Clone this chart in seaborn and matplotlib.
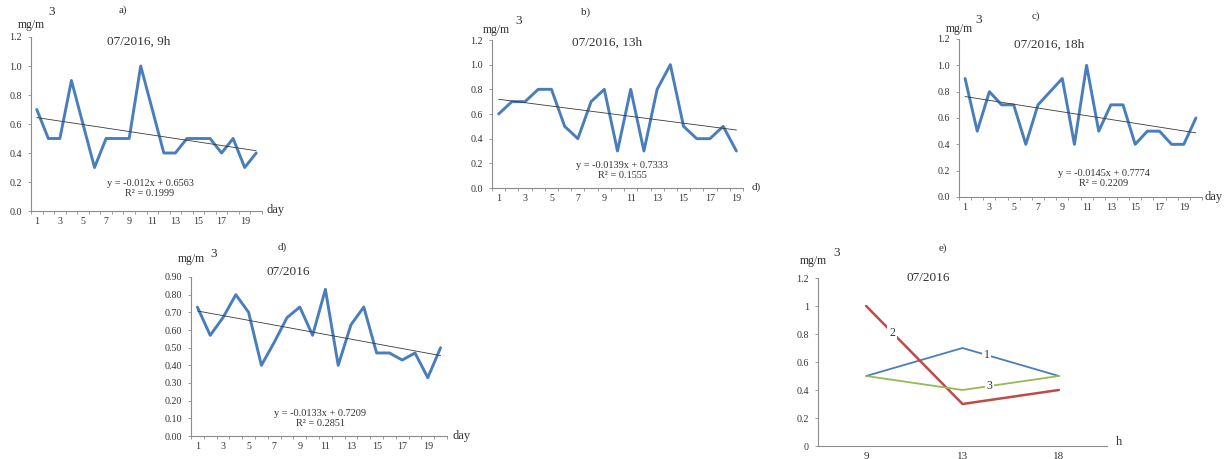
import numpy as np
import pandas as pd
import matplotlib
matplotlib.use("Agg")
import matplotlib.pyplot as plt
import seaborn as sns

# ---------------- data ----------------
days_a = list(range(1, 21))
vals_a = [0.7, 0.5, 0.5, 0.9, 0.6, 0.3, 0.5, 0.5, 0.5, 1.0,
          0.7, 0.4, 0.4, 0.5, 0.5, 0.5, 0.4, 0.5, 0.3, 0.4]
days_b = list(range(1, 20))
vals_b = [0.6, 0.7, 0.7, 0.8, 0.8, 0.5, 0.4, 0.7, 0.8, 0.3,
          0.8, 0.3, 0.8, 1.0, 0.5, 0.4, 0.4, 0.5, 0.3]
days_c = list(range(1, 21))
vals_c = [0.9, 0.5, 0.8, 0.7, 0.7, 0.4, 0.7, 0.8, 0.9, 0.4,
          1.0, 0.5, 0.7, 0.7, 0.4, 0.5, 0.5, 0.4, 0.4, 0.6]
days_d = list(range(1, 21))
vals_d = [0.73, 0.57, 0.67, 0.80, 0.70, 0.40, 0.53, 0.67, 0.73, 0.57,
          0.83, 0.40, 0.63, 0.73, 0.47, 0.47, 0.43, 0.47, 0.33, 0.50]
hours_e = ["9", "13", "18"]
e_series1 = [0.5, 0.7, 0.5]
e_series2 = [1.0, 0.3, 0.4]
e_series3 = [0.5, 0.4, 0.5]

eq_a = ["y = -0.012x + 0.6563", "R² = 0.1999"]
eq_b = ["y = -0.0139x + 0.7333", "R² = 0.1555"]
eq_c = ["y = -0.0145x + 0.7774", "R² = 0.2209"]
eq_d = ["y = -0.0133x + 0.7209", "R² = 0.2851"]

# ---------------- style ----------------
sns.set_theme(style="white")
plt.rcParams['font.family'] = ['Liberation Serif', 'DejaVu Serif']

W, H = 1227, 459
fig = plt.figure(figsize=(W / 100, H / 100), dpi=100)
fig.patch.set_facecolor("white")

BLUE = "#4a7ebb"
AXC = "#8c8c8c"
TXT = "#333333"

TICK_FS = 7.2
EQ_FS = 7.4
TITLE_FS = 9.5
UNIT_FS = 8.5
SUP_FS = 9.5
PANEL_FS = 8
DAY_FS = 9


def rect(l, t, r, b):
    return [l / W, 1 - b / H, (r - l) / W, (b - t) / H]


def ftext(x, y, s, size=6, **kw):
    fig.text(x / W, 1 - y / H, s, fontsize=size, color=TXT,
             ha=kw.pop("ha", "center"), va=kw.pop("va", "center"), **kw)


def style_axes(ax, n, ymax, ystep, yfmt, xticks, xlabels):
    for s in ["top", "right"]:
        ax.spines[s].set_visible(False)
    for s in ["left", "bottom"]:
        ax.spines[s].set_color(AXC)
        ax.spines[s].set_linewidth(0.8)
    ax.set_xlim(0.5, n + 0.5)
    ax.set_ylim(0, ymax)
    yt = np.arange(0, ymax + ystep / 2, ystep)
    ax.set_yticks(yt)
    ax.set_yticklabels([yfmt(v) for v in yt])
    ax.set_xticks(xticks)
    ax.set_xticklabels(xlabels)
    ax.set_xticks(np.arange(0.5, n + 0.6, 1), minor=True)
    ax.tick_params(axis="x", which="major", length=0, labelsize=TICK_FS, pad=4)
    ax.tick_params(axis="x", which="minor", length=2, width=0.6, color=AXC, direction="out")
    ax.tick_params(axis="y", length=2.5, width=0.6, color=AXC, labelsize=TICK_FS, pad=4,
                   direction="out")
    ax.tick_params(which="both", labelcolor=TXT, bottom=True, left=True)
    ax.set_xlabel("")
    ax.set_ylabel("")
    ax.grid(False)
    ax.set_facecolor("white")


def day_panel(box, days, vals, ymax, ystep, yfmt):
    ax = fig.add_axes(rect(*box))
    df = pd.DataFrame({"day": days, "val": vals})
    sns.lineplot(data=df, x="day", y="val", ax=ax, color=BLUE, linewidth=2.1)
    sns.regplot(data=df, x="day", y="val", ax=ax, scatter=False, ci=None,
                color="#3a3a3a", line_kws={"linewidth": 0.6})
    n = len(days)
    odd = [d for d in days if d % 2 == 1]
    style_axes(ax, n, ymax, ystep, yfmt, odd, [str(d) for d in odd])
    return ax


f1 = lambda v: f"{v:.1f}"
f2 = lambda v: f"{v:.2f}"

# a)
day_panel((31, 37, 262, 211), days_a, vals_a, 1.2, 0.2, f1)
ftext(123, 10, "a)", PANEL_FS)
ftext(139, 42, "07/2016, 9h", TITLE_FS)
ftext(31, 25, "mg/m", UNIT_FS)
ftext(52, 12, "3", SUP_FS)
ftext(150, 183, eq_a[0], EQ_FS)
ftext(150, 193, eq_a[1], EQ_FS)
ftext(276, 210, "day", DAY_FS)

# b)
day_panel((492, 40, 743, 188), days_b, vals_b, 1.2, 0.2, f1)
ftext(586, 12, "b)", PANEL_FS)
ftext(607, 43, "07/2016, 13h", TITLE_FS)
ftext(496, 30, "mg/m", UNIT_FS)
ftext(519, 21, "3", SUP_FS)
ftext(622, 166, eq_b[0], EQ_FS)
ftext(622, 176, eq_b[1], EQ_FS)
ftext(756, 187, "d)", PANEL_FS)

# c)
day_panel((959, 39, 1202, 197), days_c, vals_c, 1.2, 0.2, f1)
ftext(1036, 16, "c)", PANEL_FS)
ftext(1049, 45, "07/2016, 18h", TITLE_FS)
ftext(959, 29, "mg/m", UNIT_FS)
ftext(979, 20, "3", SUP_FS)
ftext(1104, 173, eq_c[0], EQ_FS)
ftext(1104, 183, eq_c[1], EQ_FS)
ftext(1214, 197, "day", DAY_FS)

# d)
day_panel((191, 277, 447, 436), days_d, vals_d, 0.9, 0.1, f2)
ftext(282, 247, "d)", PANEL_FS)
ftext(288, 272, "07/2016", TITLE_FS)
ftext(191, 259, "mg/m", UNIT_FS)
ftext(214, 254, "3", SUP_FS)
ftext(320, 413, eq_d[0], EQ_FS)
ftext(320, 423, eq_d[1], EQ_FS)
ftext(462, 436, "day", DAY_FS)

# e)
axe = fig.add_axes(rect(818, 278, 1107, 446))
xe = [1, 2, 3]
de = pd.DataFrame({
    "x": xe * 3,
    "val": e_series1 + e_series2 + e_series3,
    "series": ["1"] * 3 + ["2"] * 3 + ["3"] * 3,
})
sns.lineplot(data=de, x="x", y="val", hue="series", ax=axe,
             palette={"1": "#4a7ebb", "2": "#be4b48", "3": "#98b954"},
             linewidth=1.3, legend=False)
for line in axe.get_lines():
    if line.get_color() == "#be4b48":
        line.set_linewidth(1.8)
style_axes(axe, 3, 1.2, 0.2, lambda v: f"{v:g}", xe, hours_e)
axe.set_xticks([], minor=True)
axe.tick_params(axis="x", which="major", labelsize=8)
for lbl, (x, y) in zip(["1", "2", "3"], [(2.25, 0.65), (1.27, 0.81), (2.28, 0.43)]):
    axe.text(x, y, lbl, fontsize=8.5, color=TXT, ha="center", va="center",
             bbox=dict(boxstyle="square,pad=0.15", fc="white", ec="none"))
ftext(943, 248, "e)", PANEL_FS)
ftext(928, 278, "07/2016", TITLE_FS)
ftext(813, 261, "mg/m", UNIT_FS)
ftext(837, 253, "3", SUP_FS)
ftext(1119, 442, "h", DAY_FS)

fig.savefig("out.png", dpi=100, facecolor="white")
